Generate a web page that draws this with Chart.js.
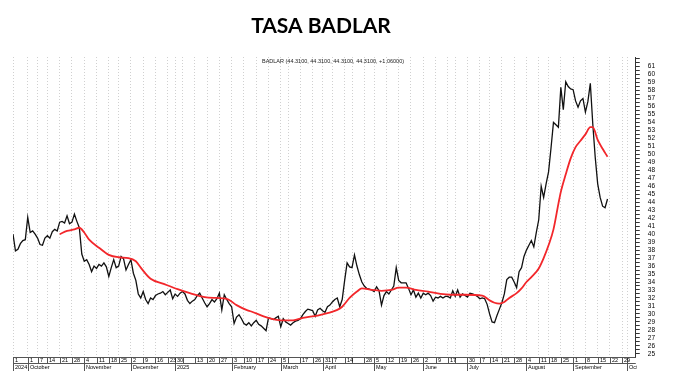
<!DOCTYPE html>
<html>
<head>
<meta charset="utf-8">
<title>Tasa BADLAR</title>
<script src="https://cdn.jsdelivr.net/npm/chart.js@4/dist/chart.umd.min.js"></script>
<style>
    html, body { margin: 0; padding: 0; background: #fff; }
    #grafico { display: block; }
</style>
</head>
<body>
<canvas id="grafico" width="686" height="382"></canvas>
<script>
// Textos
const titulo = 'TASA BADLAR';
const leyenda = 'BADLAR (44.3100, 44.3100, 44.3100, 44.3100, +1.06000)';

// Serie diaria BADLAR (una por rueda)
const badlar = [
    40.0, 37.9, 38.1, 38.8, 39.2, 39.3, 42.1, 40.2, 40.4, 40.0,
    39.5, 38.7, 38.6, 39.5, 39.8, 39.5, 40.3, 40.6, 40.4, 41.5,
    41.6, 41.4, 42.3, 41.3, 41.5, 42.5, 41.6, 40.8, 37.5, 36.6,
    36.8, 36.2, 35.3, 36.0, 35.7, 36.2, 36.0, 36.4, 35.9, 34.7,
    35.8, 36.8, 35.8, 36.0, 37.2, 36.9, 35.5, 36.2, 36.8, 35.1,
    34.2, 32.5, 32.0, 32.8, 31.8, 31.3, 32.0, 31.8, 32.3, 32.5,
    32.6, 32.8, 32.4, 32.7, 33.0, 31.9, 32.5, 32.2, 32.6, 32.8,
    32.5, 31.7, 31.3, 31.6, 31.8, 32.3, 32.6, 32.0, 31.4, 30.9,
    31.3, 31.8, 31.5, 31.9, 32.6, 30.5, 32.4, 31.8, 31.3, 30.9,
    28.8, 29.6, 29.9, 29.4, 28.8, 28.6, 28.9, 28.5, 28.9, 29.2,
    28.7, 28.5, 28.2, 27.9, 29.5, 29.4, 29.3, 29.5, 29.7, 28.4,
    29.4, 29.0, 28.8, 28.6, 28.9, 29.1, 29.2, 29.4, 29.9, 30.3,
    30.6, 30.5, 30.4, 29.7, 30.5, 30.7, 30.4, 30.2, 30.9, 31.1,
    31.5, 31.8, 32.0, 30.9, 31.8, 34.2, 36.4, 35.9, 35.8, 37.4,
    36.0, 34.9, 34.0, 33.5, 33.2, 33.1, 33.0, 32.8, 33.4, 32.9,
    31.1, 32.3, 32.8, 32.5, 33.0, 33.5, 35.8, 34.2, 33.9, 33.9,
    33.9, 33.2, 32.4, 33.0, 32.1, 32.6, 32.0, 32.6, 32.4, 32.6,
    32.3, 31.6, 32.1, 32.0, 32.2, 32.0, 32.2, 32.2, 32.0, 32.9,
    32.2, 33.0, 32.1, 32.5, 32.3, 32.1, 32.6, 32.5, 32.4, 32.2,
    31.9, 32.0, 31.9, 31.2, 30.0, 29.0, 28.9, 29.8, 30.6, 31.4,
    32.5, 34.3, 34.6, 34.6, 34.0, 33.3, 35.3, 35.8, 37.2, 38.0,
    38.6, 39.2, 38.4, 40.2, 41.8, 46.0, 44.6, 46.3, 47.8, 50.8,
    54.0, 53.7, 53.4, 58.4, 55.6, 59.1, 58.5, 58.2, 58.1, 56.7,
    55.9, 56.7, 57.0, 55.3, 56.6, 58.9, 53.8, 49.6, 46.3, 44.6,
    43.5, 43.3, 44.4
];

// Media móvil (rueda y valor)
const mediaRueda = [
    19, 22, 25, 27, 29, 31, 35, 39, 43, 47,
    50, 52, 56, 61, 67, 72, 78, 83, 87, 91,
    95, 97, 102, 105, 109, 114, 118, 124, 128, 132,
    134, 137, 140, 142, 146, 150, 154, 157, 160, 164,
    169, 174, 178, 184, 191, 194, 196, 198, 200, 202,
    205, 207, 209, 211, 214, 216, 218, 220, 222, 223,
    225, 227, 229, 231, 233, 235, 236, 238, 240, 242
];
const mediaValor = [
    40.0, 40.4, 40.6, 40.8, 40.2, 39.3, 38.3, 37.4, 37.1, 37.0,
    36.6, 35.8, 34.4, 33.8, 33.1, 32.6, 32.1, 32.0, 31.9, 31.1,
    30.5, 30.3, 29.7, 29.4, 29.2, 29.2, 29.5, 29.8, 30.1, 30.5,
    30.9, 32.0, 32.8, 33.2, 33.0, 32.9, 33.0, 33.3, 33.3, 33.0,
    32.8, 32.5, 32.4, 32.4, 32.3, 31.7, 31.4, 31.3, 31.5, 32.0,
    32.6, 33.2, 34.0, 34.6, 35.7, 37.0, 38.6, 40.6, 43.8, 45.3,
    47.5, 49.5, 50.9, 51.7, 52.5, 53.4, 53.4, 51.8, 50.7, 49.7
];

// Eje X: semanas (etiqueta y ruedas de cada semana) y meses
const etiquetasSemana = ['1', '1', '7', '14', '21', '28', '4', '11', '18', '25', '2', '9', '16', '23', '30', '', '13', '20', '27',
    '3', '10', '17', '24', '5', '', '17', '26', '31', '7', '14', '', '28', '5', '12', '19', '26', '2', '9', '17', '',
    '30', '7', '14', '21', '28', '4', '11', '18', '25', '1', '8', '15', '22', '29', ''];
const ruedasSemana = [6, 4, 4, 5, 5, 5, 5, 5, 4, 5, 5, 5, 5, 3, 3, 5, 5, 5, 5,
    5, 5, 5, 5, 3, 5, 5, 4, 4, 5, 3, 5, 4, 5, 5, 5, 5, 5, 5, 3, 5,
    5, 4, 5, 5, 5, 5, 4, 5, 5, 5, 5, 5, 5, 2, 4];
const meses = ['2024', 'October', 'November', 'December', '2025', 'February', 'March', 'April', 'May', 'June',
    'July', 'August', 'September', 'October'];
const mesSemana = [0, 1, 6, 10, 14, 19, 23, 27, 32, 36, 40, 45, 49, 54];

// Eje Y
const etiquetasY = [25, 26, 27, 28, 29, 30, 31, 32, 33, 34, 35, 36, 37, 38, 39, 40, 41, 42, 43,
    44, 45, 46, 47, 48, 49, 50, 51, 52, 53, 54, 55, 56, 57, 58, 59, 60, 61];

// Posición (rueda) de cada semana
const posSemana = [];
let acumulado = 0;
ruedasSemana.forEach(d => {
    posSemana.push(acumulado);
    acumulado += d;
});

const fuenteChica = '5.5px "Liberation Sans", Arial, sans-serif';

/**
 * Dibuja título, leyenda y la grilla de fechas debajo del gráfico
 */
const rotulos = {
    id: 'rotulos',
    afterDraw(chart) {
        const ctx = chart.ctx;
        const area = chart.chartArea;
        const xs = chart.scales.x;
        const y0 = Math.round(area.bottom);
        const y1 = y0 + 6;
        const y2 = y0 + 14;

        ctx.save();
        ctx.fillStyle = '#000';
        ctx.font = 'bold 21px Lato, "Open Sans", sans-serif';
        ctx.textAlign = 'center';
        ctx.textBaseline = 'alphabetic';
        ctx.fillText(titulo, 321, 33);

        ctx.fillStyle = '#222';
        ctx.font = fuenteChica;
        ctx.textAlign = 'left';
        ctx.fillText(leyenda, 262, 63);

        // celdas de días y meses
        ctx.beginPath();
        ctx.rect(area.left - 1, y0 - 1, area.right - area.left + 2, 22);
        ctx.clip();

        ctx.strokeStyle = '#555';
        ctx.lineWidth = 1;
        ctx.beginPath();
        ctx.moveTo(area.left, y0 + 0.5);
        ctx.lineTo(area.right, y0 + 0.5);
        ctx.moveTo(area.left, y1 + 0.5);
        ctx.lineTo(area.right, y1 + 0.5);
        posSemana.forEach(p => {
            const px = Math.round(xs.getPixelForValue(p)) + 0.5;
            ctx.moveTo(px, y0);
            ctx.lineTo(px, y1);
        });
        mesSemana.forEach(k => {
            const px = Math.round(xs.getPixelForValue(posSemana[k])) + 0.5;
            ctx.moveTo(px, y1);
            ctx.lineTo(px, y2);
        });
        ctx.stroke();

        ctx.fillStyle = '#000';
        ctx.textBaseline = 'middle';
        etiquetasSemana.forEach((t, k) => {
            const px = Math.round(xs.getPixelForValue(posSemana[k]));
            ctx.fillText(t, px + 2, y0 + 3.5);
        });
        meses.forEach((m, k) => {
            const px = Math.round(xs.getPixelForValue(posSemana[mesSemana[k]]));
            ctx.fillText(m, px + 2, y1 + 4.5);
        });
        ctx.restore();
    }
};

const ctx = document.getElementById('grafico');

window.badlarChart = new Chart(ctx, {
    type: 'line',
    data: {
        datasets: [
            {
                label: 'Media',
                data: mediaRueda.map((r, k) => ({ x: r, y: mediaValor[k] })),
                borderColor: '#f2272b',
                borderWidth: 1.8,
                pointRadius: 0,
                cubicInterpolationMode: 'monotone',
                fill: false
            },
            {
                label: 'BADLAR',
                data: badlar.map((v, i) => ({ x: i, y: v })),
                borderColor: '#111111',
                borderWidth: 1.3,
                pointRadius: 0,
                tension: 0,
                fill: false
            }
        ]
    },
    options: {
        responsive: false,
        animation: false,
        layout: {
            padding: { top: 57, left: 13, right: 23, bottom: 25 }
        },
        plugins: {
            legend: { display: false },
            tooltip: { enabled: false },
            title: { display: false }
        },
        scales: {
            x: {
                type: 'linear',
                min: 0,
                max: 253.5,
                afterBuildTicks: scale => {
                    scale.ticks = posSemana.map(p => ({ value: p }));
                },
                ticks: { display: false },
                grid: {
                    color: '#d0d0d0',
                    lineWidth: 1,
                    drawTicks: false
                },
                border: { display: false, dash: [1, 2] }
            },
            y: {
                type: 'linear',
                position: 'right',
                min: 24.6,
                max: 62.2,
                afterBuildTicks: scale => {
                    const marcas = [];
                    etiquetasY.forEach(v => {
                        marcas.push({ value: v });
                        marcas.push({ value: v + 0.5 });
                    });
                    marcas.push({ value: 62 });
                    scale.ticks = marcas;
                },
                ticks: {
                    autoSkip: false,
                    padding: 8,
                    color: '#000',
                    font: { family: '"Liberation Sans", Arial, sans-serif', size: 6.5 },
                    callback: v => (etiquetasY.includes(v) ? String(v) : '')
                },
                grid: {
                    drawOnChartArea: false,
                    tickLength: 4,
                    tickColor: '#333'
                },
                border: { display: true, color: '#333', width: 1 }
            }
        }
    },
    plugins: [rotulos]
});
</script>
</body>
</html>
